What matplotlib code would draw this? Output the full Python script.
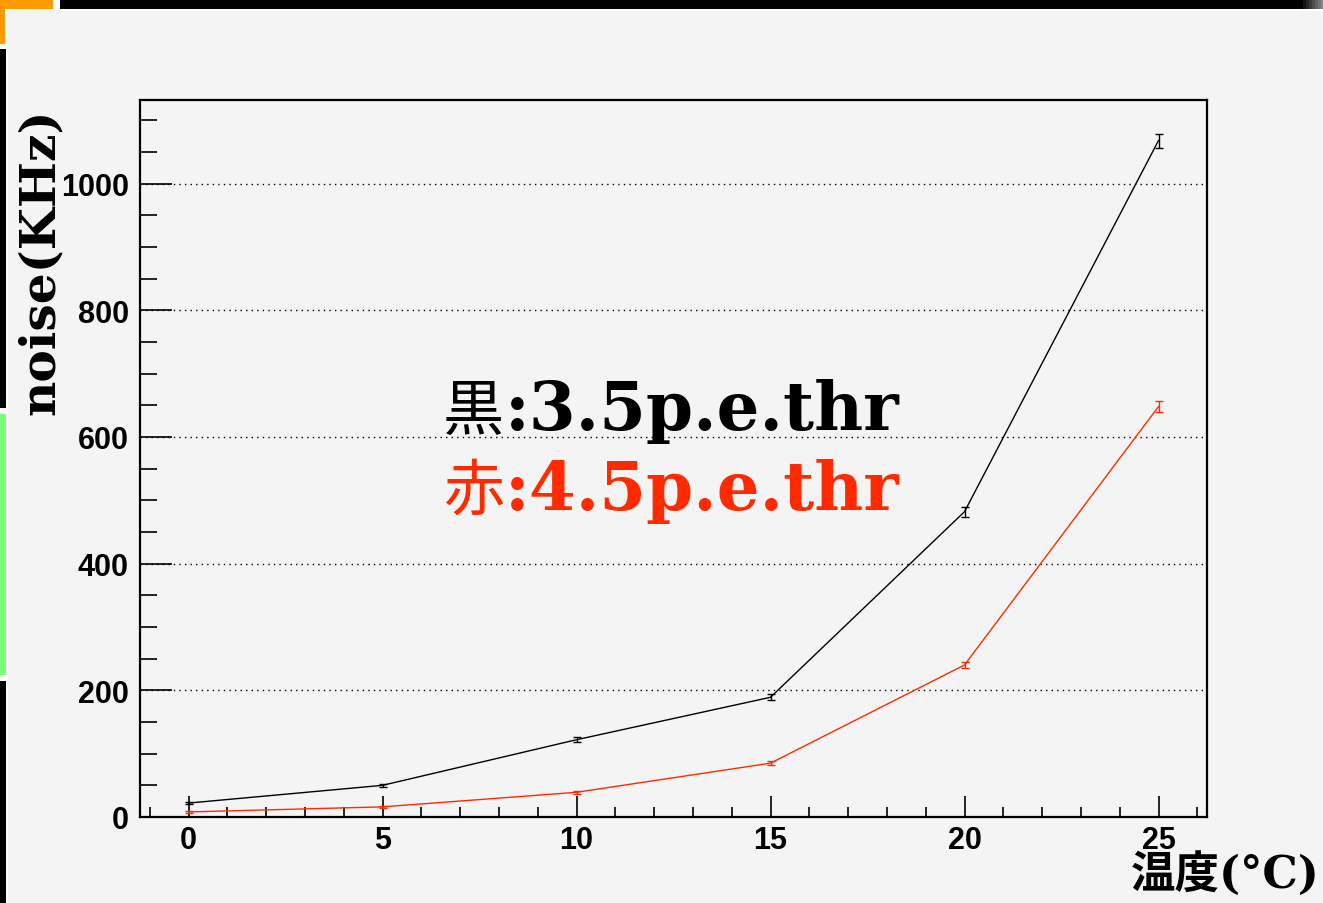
import matplotlib
matplotlib.use("Agg")
import matplotlib.pyplot as plt
from matplotlib.patches import Rectangle

# temperature (deg C) vs noise rate (kHz)
temp = [0, 5, 10, 15, 20, 25]
noise_35 = [22, 50, 122, 189, 482, 1068]
err_35 = [1.5, 2.5, 4, 5, 8, 11]
noise_45 = [8, 16, 39, 85, 240, 648]
err_45 = [1, 2, 2, 3, 5.5, 9]

W, H = 1323, 904
BG = "#f4f4f4"
RED = "#ff2a00"

fig = plt.figure(figsize=(W / 100, H / 100), dpi=100, facecolor="white")


def px_rect(x0, y0, x1, y1, color):
    # rectangle given in image pixels (origin top-left)
    fig.add_artist(Rectangle((x0 / W, 1 - y1 / H), (x1 - x0) / W, (y1 - y0) / H,
                             transform=fig.transFigure, color=color, lw=0, zorder=-10))


# slide decorations around the chart
px_rect(0, 0, 53, 45, "#ff9900")
px_rect(5, 10, W, H, "white")
px_rect(8, 12, W, H, BG)
px_rect(60, 0, 1300, 10, "black")
for i in range(8):
    g = i / 8
    px_rect(1300 + i * 3, 0, 1303 + i * 3, 10, (g * 0.6, g * 0.6, g * 0.6))
px_rect(0, 50, 6, 409, "black")
px_rect(0, 415, 6, 676, "#77ff77")
px_rect(0, 682, 6, H, "black")

ax = fig.add_axes([140 / W, 1 - 818 / H, (1207 - 140) / W, (818 - 101) / H])
ax.set_facecolor(BG)

ax.errorbar(temp, noise_35, yerr=err_35, color="black", lw=1.0, capsize=3.2,
            elinewidth=1.0, capthick=1.0, zorder=3)
ax.errorbar(temp, noise_45, yerr=err_45, color=RED, lw=1.0, capsize=3.2,
            elinewidth=1.0, capthick=1.0, zorder=3)

ax.set_xlim(-1.25, 26.25)
ax.set_ylim(0, 1132)
ax.set_xticks([0, 5, 10, 15, 20, 25])
ax.set_xticks(range(-1, 27), minor=True)
ax.set_yticks([0, 200, 400, 600, 800, 1000])
ax.set_yticks(range(0, 1132, 50), minor=True)

for y in [200, 400, 600, 800, 1000]:
    ax.axhline(y, color="black", lw=1.0, ls=(0, (1, 3)), zorder=1)

for s in ax.spines.values():
    s.set_linewidth(1.6)

ax.tick_params(axis="both", which="both", direction="in", top=False, right=False,
               width=1.2, labelsize=22)
ax.tick_params(axis="y", which="major", length=23, pad=8)
ax.tick_params(axis="y", which="minor", length=12)
ax.tick_params(axis="x", which="major", length=15, pad=6)
ax.tick_params(axis="x", which="minor", length=7)
for lab in ax.get_xticklabels() + ax.get_yticklabels():
    lab.set_fontfamily("Liberation Sans")
    lab.set_fontweight("bold")

serif = ["DejaVu Serif", "Noto Sans CJK JP"]

fig.text(40 / W, 1 - 262 / H, "noise(KHz)", rotation=90, ha="center", va="center",
         fontsize=35, fontweight="bold", family=serif)

fig.text(1320 / W, 1 - 888 / H, "温度(°C)", ha="right", va="baseline",
         fontsize=32, fontweight="bold", family=serif)

# legend-like annotation
fig.text(443 / W, 1 - 430 / H, "黒", ha="left", va="baseline", fontsize=44,
         family=serif, color="black")
fig.text(505 / W, 1 - 430 / H, ":3.5p.e.thr", ha="left", va="baseline", fontsize=48.5,
         fontweight="bold", family=serif, color="black")
fig.text(443 / W, 1 - 510 / H, "赤", ha="left", va="baseline", fontsize=44,
         family=serif, color=RED)
fig.text(505 / W, 1 - 510 / H, ":4.5p.e.thr", ha="left", va="baseline", fontsize=48.5,
         fontweight="bold", family=serif, color=RED)

fig.savefig("out.png", dpi=100, facecolor="white")
